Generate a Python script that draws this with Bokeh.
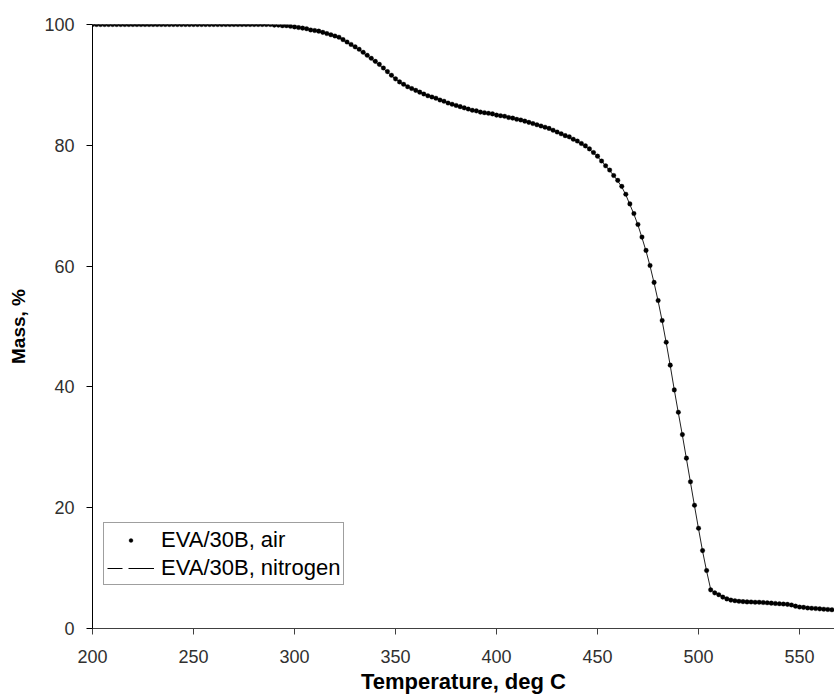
from bokeh.plotting import figure
from bokeh.models import Range1d, Legend, LegendItem, ColumnDataSource, FixedTicker
from bokeh.embed import file_html
from bokeh.resources import INLINE

# Thermogravimetric curves of EVA/30B, mass (%) against temperature (deg C)
temperature = [
    200, 202, 204, 206, 208, 210, 212, 214, 216, 218,
    220, 222, 224, 226, 228, 230, 232, 234, 236, 238,
    240, 242, 244, 246, 248, 250, 252, 254, 256, 258,
    260, 262, 264, 266, 268, 270, 272, 274, 276, 278,
    280, 282, 284, 286, 288, 290, 292, 294, 296, 298,
    300, 302, 304, 306, 308, 310, 312, 314, 316, 318,
    320, 322, 324, 326, 328, 330, 332, 334, 336, 338,
    340, 342, 344, 346, 348, 350, 352, 354, 356, 358,
    360, 362, 364, 366, 368, 370, 372, 374, 376, 378,
    380, 382, 384, 386, 388, 390, 392, 394, 396, 398,
    400, 402, 404, 406, 408, 410, 412, 414, 416, 418,
    420, 422, 424, 426, 428, 430, 432, 434, 436, 438,
    440, 442, 444, 446, 448, 450, 452, 454, 456, 458,
    460, 462, 464, 466, 468, 470, 472, 474, 476, 478,
    480, 482, 484, 486, 488, 490, 492, 494, 496, 498,
    500, 502, 504, 506, 508, 510, 512, 514, 516, 518,
    520, 522, 524, 526, 528, 530, 532, 534, 536, 538,
    540, 542, 544, 546, 548, 550, 552, 554, 556, 558,
    560, 562, 564, 566,
]

mass_air = [
    100.0, 100.0, 100.0, 100.0, 100.0, 100.0, 100.0, 100.0, 100.0, 100.0,
    100.0, 100.0, 100.0, 100.0, 100.0, 100.0, 100.0, 100.0, 100.0, 100.0,
    100.0, 100.0, 100.0, 100.0, 100.0, 100.0, 100.0, 100.0, 100.0, 100.0,
    100.0, 100.0, 100.0, 100.0, 100.0, 100.0, 100.0, 100.0, 100.0, 100.0,
    100.0, 100.0, 100.0, 100.0, 100.0, 99.9, 99.9, 99.8, 99.8, 99.7,
    99.6, 99.5, 99.4, 99.3, 99.1, 99.0, 98.9, 98.7, 98.5, 98.3,
    98.1, 97.9, 97.5, 97.1, 96.7, 96.3, 95.9, 95.4, 94.9, 94.4,
    93.9, 93.4, 92.8, 92.2, 91.6, 91.0, 90.5, 90.1, 89.7, 89.4,
    89.1, 88.8, 88.5, 88.2, 88.0, 87.8, 87.5, 87.3, 87.0, 86.8,
    86.6, 86.4, 86.2, 86.0, 85.8, 85.7, 85.5, 85.4, 85.3, 85.2,
    85.0, 84.9, 84.8, 84.6, 84.5, 84.3, 84.2, 84.0, 83.8, 83.6,
    83.4, 83.2, 83.0, 82.8, 82.5, 82.2, 81.9, 81.6, 81.4, 81.0,
    80.7, 80.3, 79.9, 79.4, 78.8, 78.2, 77.4, 76.6, 75.9, 75.0,
    74.2, 73.2, 71.9, 70.3, 68.7, 66.9, 64.8, 62.6, 60.1, 57.3,
    54.3, 51.0, 47.4, 43.6, 39.5, 35.8, 32.1, 28.2, 24.3, 20.4,
    16.6, 12.9, 9.6, 6.4, 5.9, 5.6, 5.2, 4.9, 4.7, 4.6,
    4.5, 4.45, 4.4, 4.4, 4.35, 4.35, 4.3, 4.25, 4.2, 4.15,
    4.1, 4.05, 4.0, 3.9, 3.7, 3.55, 3.5, 3.4, 3.35, 3.3,
    3.25, 3.2, 3.15, 3.1,
]

mass_nitrogen = [
    100.0, 100.0, 100.0, 100.0, 100.0, 100.0, 100.0, 100.0, 100.0, 100.0,
    100.0, 100.0, 100.0, 100.0, 100.0, 100.0, 100.0, 100.0, 100.0, 100.0,
    100.0, 100.0, 100.0, 100.0, 100.0, 100.0, 100.0, 100.0, 100.0, 100.0,
    100.0, 100.0, 100.0, 100.0, 100.0, 100.0, 100.0, 100.0, 100.0, 100.0,
    100.0, 100.0, 100.0, 100.0, 99.9, 99.9, 99.8, 99.8, 99.7, 99.7,
    99.6, 99.5, 99.4, 99.2, 99.1, 99.0, 98.8, 98.6, 98.4, 98.2,
    98.0, 97.8, 97.4, 97.0, 96.6, 96.2, 95.8, 95.3, 94.8, 94.3,
    93.8, 93.3, 92.7, 92.1, 91.5, 91.0, 90.5, 90.1, 89.7, 89.4,
    89.1, 88.8, 88.5, 88.2, 88.0, 87.8, 87.5, 87.3, 87.0, 86.8,
    86.6, 86.4, 86.2, 86.0, 85.8, 85.7, 85.5, 85.4, 85.3, 85.2,
    85.0, 84.9, 84.8, 84.6, 84.5, 84.3, 84.2, 84.0, 83.8, 83.6,
    83.4, 83.2, 83.0, 82.8, 82.5, 82.2, 81.9, 81.6, 81.3, 81.0,
    80.6, 80.2, 79.8, 79.3, 78.7, 78.1, 77.4, 76.6, 75.8, 75.0,
    74.1, 73.1, 71.8, 70.2, 68.6, 66.8, 64.7, 62.5, 60.0, 57.2,
    54.2, 50.9, 47.3, 43.5, 39.5, 35.7, 32.0, 28.1, 24.2, 20.3,
    16.5, 12.8, 9.5, 6.5, 5.9, 5.6, 5.2, 4.9, 4.7, 4.6,
    4.5, 4.45, 4.4, 4.4, 4.35, 4.35, 4.3, 4.25, 4.2, 4.15,
    4.1, 4.05, 4.0, 3.9, 3.7, 3.55, 3.5, 3.4, 3.35, 3.3,
    3.25, 3.2, 3.15, 3.1,
]

x_ticks = [200, 250, 300, 350, 400, 450, 500, 550]
y_ticks = [0, 20, 40, 60, 80, 100]

FONT = "Liberation Sans"
NAN = float("nan")

p = figure(
    width=834, height=697,
    x_range=Range1d(200, 567.3), y_range=Range1d(0, 100),
    output_backend="svg", toolbar_location=None,
    min_border_left=92, min_border_right=0,
    min_border_top=24, min_border_bottom=69,
)
p.outline_line_color = None
p.grid.visible = False
p.background_fill_color = "white"
p.border_fill_color = "white"

src_n = ColumnDataSource(dict(t=temperature, m=mass_nitrogen))
src_a = ColumnDataSource(dict(t=temperature, m=mass_air))

line_n = p.line("t", "m", source=src_n, line_color="#202020", line_width=1)
dots_a = p.scatter("t", "m", source=src_a, marker="circle", size=4.6,
                   fill_color="black", line_color="black", line_width=0.3)

# dashed key shown in the legend for the nitrogen run (draws nothing on the plot)
key_n = p.line(x=[NAN], y=[NAN], line_color="black", line_width=1,
               line_dash="15 6 30 6")

for ax in (p.xaxis[0], p.yaxis[0]):
    ax.major_label_text_font = FONT
    ax.major_label_text_font_size = "18px"
    ax.major_label_text_color = "#303030"
    ax.major_tick_out = 6
    ax.major_tick_in = 0
    ax.minor_tick_out = 0
    ax.minor_tick_in = 0
    ax.major_label_standoff = 12
    ax.axis_label_text_font = FONT
    ax.axis_label_text_font_style = "bold"
    ax.axis_label_text_color = "black"

p.xaxis.ticker = FixedTicker(ticks=x_ticks)
p.yaxis.ticker = FixedTicker(ticks=y_ticks)
p.xaxis.axis_label = "Temperature, deg C"
p.xaxis.axis_label_text_font_size = "22px"
p.xaxis.axis_label_standoff = 3
p.xaxis.major_label_standoff = 15
p.xaxis.axis_line_color = "#404040"
p.xaxis.major_tick_line_color = "#404040"
p.yaxis.axis_label = "Mass, %"
p.yaxis.axis_label_text_font_size = "19px"
p.yaxis.axis_label_standoff = 12
p.yaxis.axis_line_color = "black"

legend = Legend(
    items=[
        LegendItem(label="EVA/30B, air", renderers=[dots_a]),
        LegendItem(label="EVA/30B, nitrogen", renderers=[key_n]),
    ],
    location=(11, 43),
    label_text_font=FONT, label_text_font_size="22px", label_text_color="black",
    border_line_color="#404040", border_line_width=1,
    background_fill_color="white", background_fill_alpha=1.0,
    padding=3, spacing=1, margin=0,
    glyph_width=47, glyph_height=10, label_height=27, label_standoff=7,
)
p.add_layout(legend, "center")

open("out.html", "w").write(file_html(p, INLINE))
